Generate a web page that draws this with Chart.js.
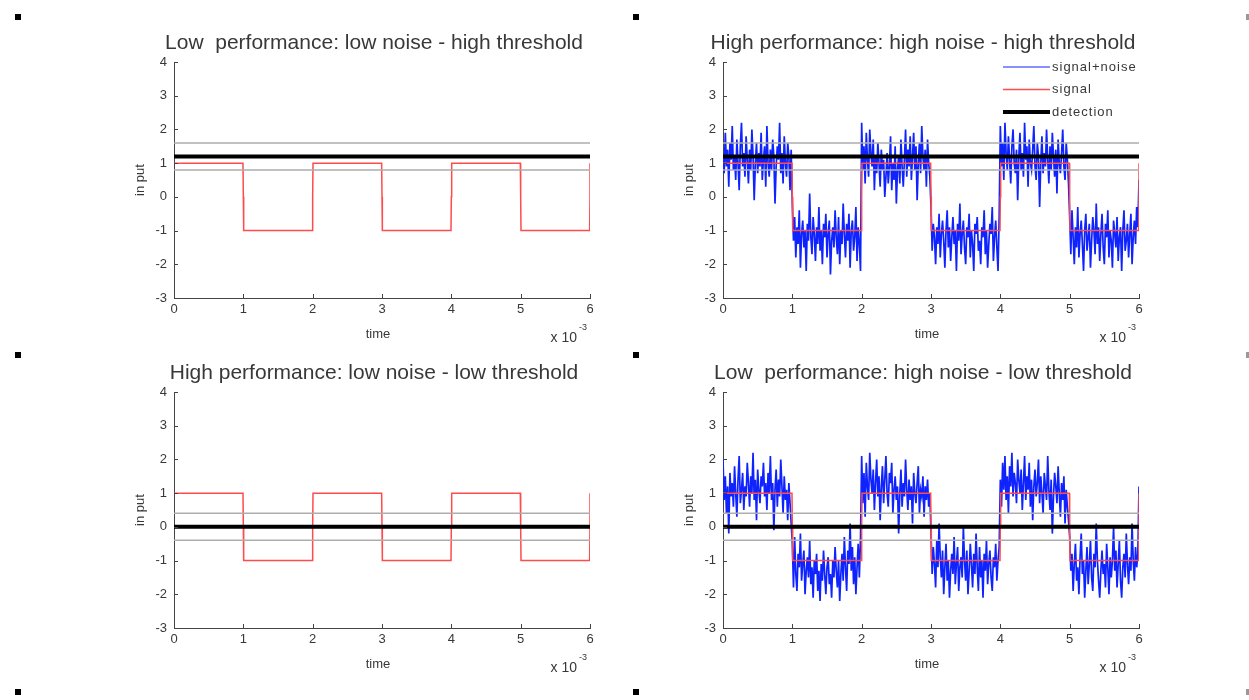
<!DOCTYPE html>
<html>
<head>
<meta charset="utf-8">
<title>Signal detection: noise and threshold</title>
<script src="https://cdn.jsdelivr.net/npm/chart.js@4.4.1/dist/chart.umd.min.js"></script>
<style>
  body { margin:0; background:#fff; width:1249px; height:700px; position:relative; overflow:hidden; }
  canvas { position:absolute; }
  .mark { position:absolute; width:6px; height:6px; background:#000; }
  .mark.edge { width:3px; background:#999; }
</style>
</head>
<body>
<div class="mark" style="left:15px;top:14px"></div>
<div class="mark" style="left:633px;top:14px"></div>
<div class="mark edge" style="left:1246px;top:14px"></div>
<div class="mark" style="left:15px;top:352px"></div>
<div class="mark" style="left:633px;top:352px"></div>
<div class="mark edge" style="left:1246px;top:352px"></div>
<div class="mark" style="left:15px;top:689px"></div>
<div class="mark" style="left:633px;top:689px"></div>
<div class="mark edge" style="left:1246px;top:689px"></div>

<canvas id="c1" width="490" height="320" style="left:120px;top:30px"></canvas>
<canvas id="c2" width="490" height="320" style="left:669px;top:30px"></canvas>
<canvas id="c3" width="490" height="320" style="left:120px;top:360px"></canvas>
<canvas id="c4" width="490" height="320" style="left:669px;top:360px"></canvas>

<script>
// time axis is in ms (shown as x 10^-3)
var timeTicks = [0, 1, 2, 3, 4, 5, 6];
var inputTicks = [-3, -2, -1, 0, 1, 2, 3, 4];

// square wave signal
var signalTime  = [0, 0.995, 1, 1.005, 1.995, 2, 2.005, 2.995, 3, 3.005, 3.995, 4, 4.005, 4.995, 5, 5.005, 5.995, 6, 6];
var signalValue = [1, 1,     0, -1,    -1,    0, 1,     1,     0, -1,    -1,    0, 1,     1,     0, -1,    -1,    0, 1];

// detection threshold and the grey band around it
var highThreshold = 1.2;
var highBand = [0.8, 1.6];
var lowThreshold = 0;
var lowBand = [-0.4, 0.4];

// signal+noise, high threshold panel (evenly sampled over 0..6 ms)
var noisyHighThr = [
  1.3, 0.7, 1.9, 0.9, 1.4, 0.3, 1.6, 1.1, 2.1, 0.8, 1.2, 0.5, 1.7, 1.0, 0.2, 1.5, 2.2, 0.9, 1.3, 0.6,
  1.8, 1.1, 0.4, 1.4, 0.8, 2.0, 1.2, -0.1, 1.0, 1.6, 0.7, 1.3, 0.9, 1.9, 0.5, 1.1, 1.5, 0.3, 2.1, 1.0,
  0.6, 1.4, 0.8, 1.7, 1.2, -0.2, 0.9, 1.5, 1.1, 2.2, 0.7, 1.3, 0.4, 1.8, 1.0, 0.6, 1.6, 1.2, 0.2, 1.4,
  -0.2, -1.3, -0.6, -1.8, -0.9, -1.4, -0.4, -2.1, -1.1, -0.7, -1.5, -1.0, -2.2, -0.8, -1.3, 0.1, -1.2, -1.7, -0.6, -1.1,
  -1.9, -0.9, -1.4, -0.3, -1.6, -1.0, -2.0, -0.8, -1.2, -0.5, -1.8, -1.1, -0.7, -2.3, -1.3, -0.9, -1.5, -0.4, -1.2, -1.7,
  -0.6, -2.0, -1.0, -1.4, -0.2, -1.1, -1.8, -0.8, -1.3, -0.5, -2.1, -1.0, -0.7, -1.6, -1.2, -0.3, -1.9, -0.9, -1.4, -2.2,
  2.2, 0.8, 1.5, 0.4, 1.9, 1.1, 0.6, 2.0, 1.3, 0.9, 1.7, 0.2, 1.2, 0.7, 1.6, 1.0, 0.3, 1.4, 0.8, 1.1,
  0.0, 0.6, 1.3, 0.4, 0.9, 1.8, 0.2, 1.0, 0.5, 1.5, -0.2, 0.8, 1.2, 0.4, 1.7, 0.9, 0.3, 1.1, 2.0, 0.6,
  1.4, 0.9, 1.8, 0.5, 1.2, 1.9, 0.8, 1.5, -0.1, 1.0, 1.6, 0.7, 2.1, 1.2, 0.8, 1.4, 0.3, 1.7, 1.0, 0.6,
  -0.3, -1.6, -0.8, -1.2, -2.0, -0.9, -1.4, -0.5, -1.8, -1.1, -0.7, -1.3, -2.1, -1.0, -0.4, -1.5, -0.9, -1.9, -1.2, -0.6,
  -1.4, -1.0, -2.2, -0.8, -1.3, -0.2, -1.7, -1.1, -0.7, -1.5, -2.0, -0.9, -1.2, -0.5, -1.8, -1.0, -1.4, -2.2, -0.8, -1.1,
  -0.6, -1.6, -1.3, -2.0, -0.9, -1.2, -0.4, -1.7, -1.0, -2.1, -1.4, -0.8, -1.1, -0.3, -1.9, -1.2, -0.7, -1.5, -2.2, -0.6,
  2.1, 0.9, 1.6, 0.5, 2.2, 1.3, 0.8, 1.8, 1.1, 0.4, 1.5, 2.0, 1.0, 0.7, 1.4, -0.1, 1.2, 1.9, 0.8, 1.3,
  0.6, 2.2, 1.1, 1.5, 0.3, 1.7, 1.0, 0.8, 1.4, 2.1, 0.9, 0.5, 1.6, 1.2, -0.3, 1.0, 1.8, 0.7, 1.3, 0.9,
  2.0, 1.1, 0.4, 1.5, 0.8, 1.9, 1.2, 0.6, 1.4, 0.1, 1.7, 1.0, 0.7, 1.3, 2.0, 0.9, 0.5, 1.6, 1.1, 0.4,
  -0.6, -1.7, -0.4, -1.2, -2.0, -0.9, -1.5, -0.3, -1.8, -1.1, -0.7, -1.4, -2.2, -1.0, -0.5, -1.6, -1.2, -0.8, -2.1, -1.3,
  -0.6, -1.0, -1.7, -0.2, -1.4, -0.9, -1.9, -1.1, -0.5, -1.5, -2.0, -0.8, -1.2, -0.4, -1.8, -1.0, -1.3, -2.1, -0.7, -1.1,
  -1.5, -0.6, -1.9, -1.2, -0.9, -2.2, -1.0, -0.4, -1.6, -1.3, -0.8, -1.8, -1.1, -0.5, -2.0, -1.2, -0.7, -1.4, -0.3, -0.9,
  0.5
];

// signal+noise, low threshold panel (evenly sampled over 0..6 ms)
var noisyLowThr = [
  2.0, 0.8, 1.5, 0.4, 1.2, -0.2, 1.6, 0.9, 1.3, 0.6, 1.8, 1.0, 0.3, 1.4, 2.1, 0.7, 1.1, 1.6, 0.5, 1.2,
  0.9, 1.9, 1.3, 0.6, 1.5, 1.0, 2.2, 0.8, 1.4, 0.2, 1.7, 1.1, 0.7, 1.5, 1.2, 1.9, 0.9, 1.3, 0.5, 1.6,
  1.0, 2.1, 0.8, 1.3, -0.1, 1.1, 1.7, 0.6, 1.4, 0.9, 2.0, 1.2, 0.4, 1.5, 0.8, 1.1, 0.2, 1.3, 0.7, 0.1,
  -0.5, -1.8, -0.3, -1.4, -1.9, -0.8, -1.2, -0.2, -1.6, -1.1, -0.7, -2.0, -1.3, -0.9, -1.5, -0.4, -1.7, -1.2, -2.1, -1.0,
  -1.4, -0.8, -1.9, -1.3, -2.2, -1.1, -1.6, -0.7, -1.4, -2.0, -1.2, -0.9, -1.7, -1.4, -2.1, -1.0, -1.5, -0.6, -1.3, -1.8,
  -1.0, -2.2, -1.4, -0.8, -1.6, -0.3, -1.2, -1.9, -0.7, -1.1, 0.1, -1.3, -0.6, -1.7, -0.9, -2.0, -1.2, -0.5, -1.5, -0.3,
  2.1, 0.7, 1.6, 0.3, 1.9, 1.2, 0.8, 2.2, 1.4, 1.0, 1.7, 0.5, 1.3, 2.0, 0.9, 1.5, 0.2, 1.2, 1.8, 0.7,
  1.4, 2.1, 1.0, 0.6, 1.6, 1.3, 1.9, 0.4, 1.1, 1.5, 0.8, 1.2, -0.2, 1.0, 1.7, 0.6, 1.3, 0.9, 2.0, 1.1,
  0.5, 1.4, 0.8, 1.2, 0.1, 1.6, 1.0, 0.7, 1.3, 1.8, 0.4, 1.1, 0.9, 1.5, 0.3, 1.2, 0.8, 1.4, 0.6, 1.0,
  -0.2, -1.4, -0.6, -1.1, -1.8, -0.4, -1.2, 0.1, -0.9, -1.5, -0.7, -2.0, -1.2, -0.5, -1.6, -1.0, -2.1, -1.3, -0.8, -1.4,
  -0.3, -1.7, -1.1, -0.6, -1.9, -1.2, -0.9, -1.5, 0.0, -1.0, -1.6, -0.7, -2.0, -1.3, -0.5, -1.1, -1.8, -0.8, -1.4, -0.2,
  -1.2, -1.9, -0.6, -1.5, -1.0, -2.1, -0.8, -1.3, -0.4, -1.7, -1.1, -0.7, -1.5, -1.9, -0.9, -1.2, -0.5, -1.6, -1.0, -0.6,
  1.4, 0.6, 1.9, 1.1, 2.1, 0.8, 1.5, 0.4, 1.8, 1.2, 2.2, 0.9, 1.6, 1.3, 0.7, 2.0, 1.4, 1.0, 1.7, 0.5,
  1.3, 2.1, 0.8, 1.5, 1.1, 1.9, 0.6, 1.4, 0.2, 1.2, 1.7, 0.9, 1.3, 2.0, 0.7, 1.5, 1.0, 0.4, 1.6, 1.2,
  0.8, 2.1, 1.1, 0.5, 1.4, -0.2, 0.9, 1.6, 1.2, 0.7, 1.8, 1.0, 0.3, 1.3, 0.8, 1.5, 0.1, 1.1, 0.6, 0.2,
  -0.3, -1.3, -0.8, -1.9, -1.1, -0.5, -1.6, -1.2, -2.0, -0.9, -0.2, -1.4, -1.0, -2.1, -1.3, -0.6, -1.7, -1.1, -0.4, -1.5,
  -1.9, -0.8, -1.2, 0.1, -1.0, -1.6, -2.1, -1.3, -0.7, -1.4, -1.1, -1.8, -0.5, -1.2, -2.0, -0.9, -1.5, -1.0, 0.0, -1.3,
  -0.7, -1.8, -1.1, -0.4, -1.6, -2.1, -1.2, -0.8, -1.5, -0.2, -1.1, -1.7, -0.9, -1.3, 0.1, -1.0, -1.6, -0.6, -1.2, -0.8,
  1.2
];

var titles = [
  'Low  performance: low noise - high threshold',
  'High performance: high noise - high threshold',
  'High performance: low noise - low threshold',
  'Low  performance: high noise - low threshold'
];
var legendLabels = ['signal+noise', 'signal', 'detection'];

var FONT = '"Liberation Sans", Arial, sans-serif';
var TEXT = '#383838';
var BLUE = 'rgb(15,35,255)';
var RED = 'rgb(255,75,75)';
var GREY = '#adadad';

function toPoints(xs, ys) {
  var pts = [];
  for (var i = 0; i < ys.length; i++) pts.push({x: xs[i], y: ys[i]});
  return pts;
}

// noisy samples are evenly spaced over the time axis
function sampled(values) {
  var t0 = timeTicks[0], t1 = timeTicks[timeTicks.length - 1];
  var step = (t1 - t0) / (values.length - 1);
  var pts = [];
  for (var i = 0; i < values.length; i++) pts.push({x: t0 + i * step, y: values[i]});
  return pts;
}

function flat(v) {
  return [{x: timeTicks[0], y: v}, {x: timeTicks[timeTicks.length - 1], y: v}];
}

// draws the matlab-like bits: inward ticks, title, axis labels, legend
var matlabDecor = {
  id: 'matlabDecor',
  afterDraw: function(chart, args, opts) {
    var ctx = chart.ctx, a = chart.chartArea;
    var xs = chart.scales.x, ys = chart.scales.y;
    var cx = (a.left + a.right) / 2;
    ctx.save();

    ctx.strokeStyle = '#444';
    ctx.lineWidth = 1;
    ctx.beginPath();
    xs.ticks.forEach(function(t) {
      var px = Math.round(xs.getPixelForValue(t.value)) + 0.5;
      ctx.moveTo(px, a.bottom);
      ctx.lineTo(px, a.bottom - 4);
    });
    ys.ticks.forEach(function(t) {
      var py = Math.round(ys.getPixelForValue(t.value)) + 0.5;
      ctx.moveTo(a.left, py);
      ctx.lineTo(a.left + 4, py);
    });
    ctx.stroke();

    ctx.fillStyle = TEXT;
    ctx.textAlign = 'center';
    ctx.textBaseline = 'middle';
    ctx.font = '21px ' + FONT;
    ctx.fillText(opts.title, cx - 8, a.top - 19);

    ctx.font = '13px ' + FONT;
    ctx.fillText('time', cx - 4, a.bottom + 36);

    ctx.textAlign = 'right';
    ctx.font = '14px ' + FONT;
    ctx.fillText('x 10', a.right - 13, a.bottom + 40);
    ctx.textAlign = 'left';
    ctx.font = '9px ' + FONT;
    ctx.fillText('-3', a.right - 11, a.bottom + 30);

    ctx.save();
    ctx.translate(a.left - 34, (a.top + a.bottom) / 2);
    ctx.rotate(-Math.PI / 2);
    ctx.textAlign = 'center';
    ctx.font = '13px ' + FONT;
    ctx.fillText('in put', 0, 0);
    ctx.restore();

    if (opts.legend) {
      var rows = [[BLUE, 1.2], [RED, 1.5], ['#000', 4]];
      ctx.font = '13px ' + FONT;
      ctx.letterSpacing = '1px';
      rows.forEach(function(r, i) {
        var y = a.top + 5 + i * 22.5;
        ctx.strokeStyle = r[0];
        ctx.lineWidth = r[1];
        ctx.beginPath();
        ctx.moveTo(a.right - 136, y);
        ctx.lineTo(a.right - 89, y);
        ctx.stroke();
        ctx.fillStyle = TEXT;
        ctx.fillText(legendLabels[i], a.right - 87, y);
      });
    }
    ctx.restore();
  }
};

function makeChart(id, title, noisy, threshold, band, showLegend) {
  var datasets = [];
  if (noisy) {
    datasets.push({ label: legendLabels[0], data: sampled(noisy), borderColor: BLUE, borderWidth: 1.7, order: 4 });
  }
  datasets.push({ label: legendLabels[1], data: toPoints(signalTime, signalValue), borderColor: RED, borderWidth: 1.5, order: 3 });
  datasets.push({ label: 'band', data: flat(band[0]), borderColor: GREY, borderWidth: 1.5, order: 2 });
  datasets.push({ label: 'band', data: flat(band[1]), borderColor: GREY, borderWidth: 1.5, order: 2 });
  datasets.push({ label: legendLabels[2], data: flat(threshold), borderColor: '#000', borderWidth: 4, order: 1 });

  return new Chart(document.getElementById(id), {
    type: 'line',
    data: { datasets: datasets },
    options: {
      responsive: false,
      animation: false,
      layout: { padding: { left: 0, right: 20, top: 32, bottom: 2 } },
      elements: { point: { radius: 0 }, line: { tension: 0, fill: false } },
      plugins: {
        legend: { display: false },
        title: { display: false },
        tooltip: { enabled: false },
        matlabDecor: { title: title, legend: showLegend }
      },
      scales: {
        x: {
          type: 'linear',
          min: timeTicks[0],
          max: timeTicks[timeTicks.length - 1],
          afterBuildTicks: function(s) { s.ticks = timeTicks.map(function(v) { return {value: v}; }); },
          afterFit: function(s) { s.height = 50; s.paddingLeft = 0; s.paddingRight = 0; },
          grid: { display: false, drawTicks: false },
          border: { display: true, color: '#444', width: 1 },
          ticks: { color: TEXT, font: { family: FONT, size: 13 }, padding: 4, maxRotation: 0 }
        },
        y: {
          type: 'linear',
          min: inputTicks[0],
          max: inputTicks[inputTicks.length - 1],
          afterBuildTicks: function(s) { s.ticks = inputTicks.map(function(v) { return {value: v}; }); },
          afterFit: function(s) { s.width = 54; s.paddingTop = 0; s.paddingBottom = 0; },
          grid: { display: false, drawTicks: false },
          border: { display: true, color: '#444', width: 1 },
          ticks: { color: TEXT, font: { family: FONT, size: 13 }, padding: 7 }
        }
      }
    },
    plugins: [matlabDecor]
  });
}

makeChart('c1', titles[0], null, highThreshold, highBand, false);
makeChart('c2', titles[1], noisyHighThr, highThreshold, highBand, true);
makeChart('c3', titles[2], null, lowThreshold, lowBand, false);
makeChart('c4', titles[3], noisyLowThr, lowThreshold, lowBand, false);
</script>
</body>
</html>
